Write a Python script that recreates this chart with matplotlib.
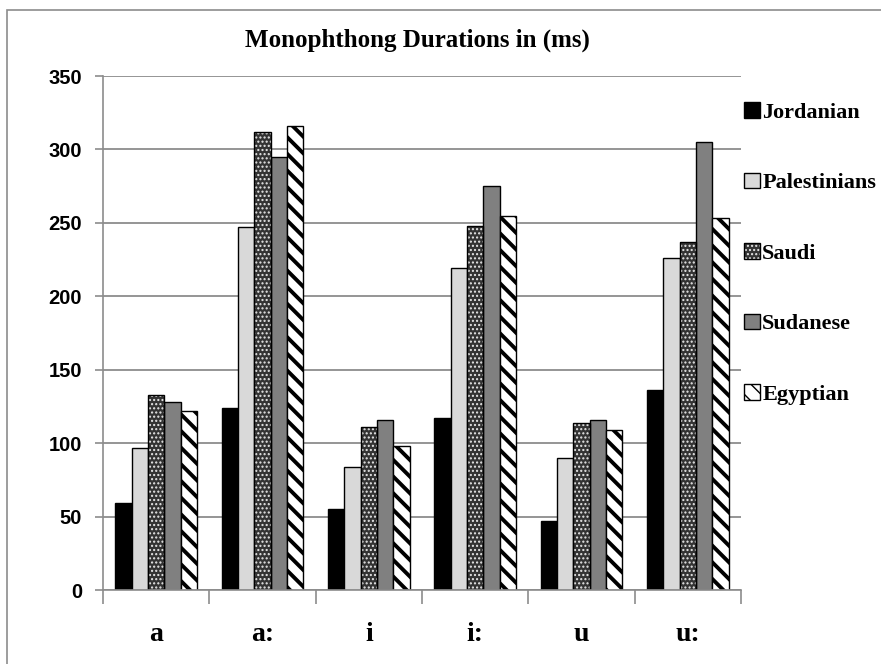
import matplotlib
matplotlib.use("Agg")
import matplotlib.pyplot as plt
import numpy as np
from matplotlib.patches import Patch, Rectangle

categories = ["a", "a:", "i", "i:", "u", "u:"]
series_names = ["Jordanian", "Palestinians", "Saudi", "Sudanese", "Egyptian"]
jordanian = [59, 124, 55, 117, 47, 136]
palestinians = [97, 247, 84, 219, 90, 226]
saudi = [133, 312, 111, 248, 114, 237]
sudanese = [128, 295, 116, 275, 116, 305]
egyptian = [122, 316, 98, 255, 109, 253]
y_ticks = [0, 50, 100, 150, 200, 250, 300, 350]
title = "Monophthong Durations in (ms)"

series = [jordanian, palestinians, saudi, sudanese, egyptian]

W, H = 881, 664
fig = plt.figure(figsize=(W / 100, H / 100), dpi=100)
fig.patch.set_facecolor("white")

# outer chart border
fig.patches.append(Rectangle((7 / W, -0.01), (W + 10) / W, (H - 10) / H + 0.01,
                             transform=fig.transFigure, fill=False,
                             edgecolor="#8c8c8c", linewidth=1.2))

ax = fig.add_axes([103 / W, (H - 590) / H, 638 / W, 514 / H])

grid_col = "#8c8c8c"
serif = ["Liberation Serif", "DejaVu Serif"]
narrow = ["Liberation Sans Narrow", "Liberation Sans", "DejaVu Sans"]

x = np.arange(len(categories))
bw = 1 / 6.5
offsets = (np.arange(5) - 2) * bw

styles = [
    dict(facecolor="black", edgecolor="black", hatch=None, hlw=1.0),
    dict(facecolor="#d9d9d9", edgecolor="black", hatch=None, hlw=1.0),
    dict(facecolor="#333333", edgecolor="#e8e8e8", hatch="....", hlw=1.0),
    dict(facecolor="#808080", edgecolor="black", hatch=None, hlw=1.0),
    dict(facecolor="white", edgecolor="black", hatch="\\\\", hlw=2.8),
]

legend_handles = []
for i, (vals, st) in enumerate(zip(series, styles)):
    with plt.rc_context({"hatch.linewidth": st["hlw"]}):
        ax.bar(x + offsets[i], vals, width=bw, facecolor=st["facecolor"],
               edgecolor=st["edgecolor"], hatch=st["hatch"],
               linewidth=0 if st["hatch"] else 1.0, zorder=3)
        if st["hatch"]:
            ax.bar(x + offsets[i], vals, width=bw, fill=False, edgecolor="black",
                   linewidth=1.0, zorder=4)
            h = (Patch(facecolor=st["facecolor"], edgecolor=st["edgecolor"],
                       hatch=st["hatch"], linewidth=0),
                 Patch(fill=False, edgecolor="black", linewidth=1.0))
        else:
            h = Patch(facecolor=st["facecolor"], edgecolor="black", linewidth=1.0)
    legend_handles.append(h)

ax.set_ylim(0, 350)
ax.set_xlim(-0.5, len(categories) - 0.5)
ax.set_yticks(y_ticks)
ax.set_yticklabels([str(v) for v in y_ticks], fontfamily=narrow, fontweight="bold", fontsize=14.5)
ax.set_xticks(x)
ax.set_xticklabels(categories, fontfamily=serif, fontweight="bold", fontsize=20)
ax.set_xticks(np.arange(len(categories) + 1) - 0.5, minor=True)
ax.tick_params(axis="x", which="major", length=0, pad=23)
ax.tick_params(axis="x", which="minor", length=10, color=grid_col, width=1.2, direction="out")
ax.tick_params(axis="y", length=6, color=grid_col, width=1.2, pad=9)

ax.yaxis.grid(True, color=grid_col, linewidth=1.3, zorder=0)
ax.set_axisbelow(True)
for s in ["top", "right"]:
    ax.spines[s].set_visible(False)
for s in ["left", "bottom"]:
    ax.spines[s].set_color(grid_col)
    ax.spines[s].set_linewidth(1.2)
ax.spines["bottom"].set_zorder(5)

fig.text(417 / W, 1 - 40 / H, title, ha="center", va="center",
         fontfamily=serif, fontweight="bold", fontsize=18)

leg = fig.legend(legend_handles, series_names, loc="upper left",
                 bbox_to_anchor=(744 / W, 1 - 102 / H), frameon=False,
                 prop={"family": serif, "weight": "bold", "size": 16},
                 handlelength=0.7, handleheight=0.7, handletextpad=0.12,
                 labelspacing=2.25, borderaxespad=0, borderpad=0)

fig.savefig("out.png", dpi=100)
